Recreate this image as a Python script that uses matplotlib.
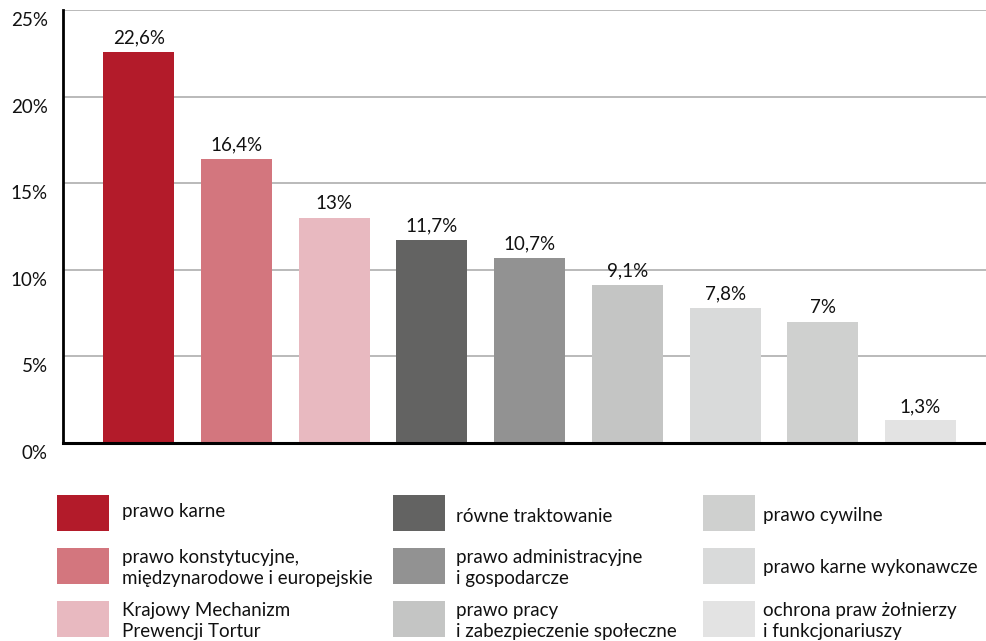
import matplotlib
matplotlib.use("Agg")
import matplotlib.pyplot as plt
import matplotlib.transforms as mtransforms
from matplotlib.patches import Rectangle

plt.rcParams['font.family'] = ['Lato', 'DejaVu Sans']

categories = [
    "prawo karne",
    "prawo konstytucyjne,\nmiędzynarodowe i europejskie",
    "Krajowy Mechanizm\nPrewencji Tortur",
    "równe traktowanie",
    "prawo administracyjne\ni gospodarcze",
    "prawo pracy\ni zabezpieczenie społeczne",
    "prawo karne wykonawcze",
    "prawo cywilne",
    "ochrona praw żołnierzy\ni funkcjonariuszy",
]
values = [22.6, 16.4, 13.0, 11.7, 10.7, 9.1, 7.8, 7.0, 1.3]
value_labels = ["22,6%", "16,4%", "13%", "11,7%", "10,7%", "9,1%", "7,8%", "7%", "1,3%"]
colors = ["#B31B2A", "#D3767E", "#E8B9C0", "#636362", "#929292",
          "#C4C5C4", "#D9DADA", "#CFD0CF", "#E3E3E3"]
yticks = [0, 5, 10, 15, 20, 25]
ytick_labels = ["0%", "5%", "10%", "15%", "20%", "25%"]
# legend grid: columns of category indices
legend_columns = [[0, 1, 2], [3, 4, 5], [7, 6, 8]]

W, H = 986, 641
FS = 13.5
fig = plt.figure(figsize=(W / 100, H / 100), dpi=100)
ax = fig.add_axes([63 / W, (H - 443) / H, 923 / W, 433 / H])

x = list(range(len(values)))
ax.bar(x, values, width=0.726, color=colors, zorder=3)
for xi, v, lab in zip(x, values, value_labels):
    ax.annotate(lab, (xi, v), xytext=(0, 4), textcoords="offset points",
                ha="center", va="bottom", fontsize=FS, color="#111111")

ax.set_xlim(-0.775, 8.67)
ax.set_ylim(0, 25)
ax.set_yticks(yticks)
ax.set_yticklabels(ytick_labels, fontsize=FS, color="#111111")
ax.set_xticks([])
ax.tick_params(axis="y", length=0, pad=11)
offset = mtransforms.ScaledTranslation(0, -9 / 100, fig.dpi_scale_trans)
for lbl in ax.get_yticklabels():
    lbl.set_transform(lbl.get_transform() + offset)

ax.grid(axis="y", color="#B4B4B4", linewidth=1.3, zorder=0)
for s in ["top", "right"]:
    ax.spines[s].set_visible(False)
ax.spines["left"].set_linewidth(2)
ax.spines["left"].set_color("black")
ax.spines["bottom"].set_linewidth(2.2)
ax.spines["bottom"].set_color("black")
ax.spines["bottom"].set_zorder(4)

# legend drawn in pixel coordinates
lax = fig.add_axes([0, 0, 1, 1])
lax.set_xlim(0, W)
lax.set_ylim(H, 0)
lax.axis("off")
col_patch_x = [57, 393, 703]
col_text_x = [122, 456, 763]
row_y = [495, 548, 601]
row_text_dy = [[16, 20, 20], [21, 20, 20], [21, 20, 20]]
for c, idxs in enumerate(legend_columns):
    for r, idx in enumerate(idxs):
        lax.add_patch(Rectangle((col_patch_x[c], row_y[r]), 52, 36,
                                color=colors[idx], lw=0))
        lax.text(col_text_x[c], row_y[r] + row_text_dy[c][r], categories[idx],
                 ha="left", va="center", fontsize=FS, color="#111111",
                 linespacing=1.25)

fig.savefig("out.png", dpi=100)
